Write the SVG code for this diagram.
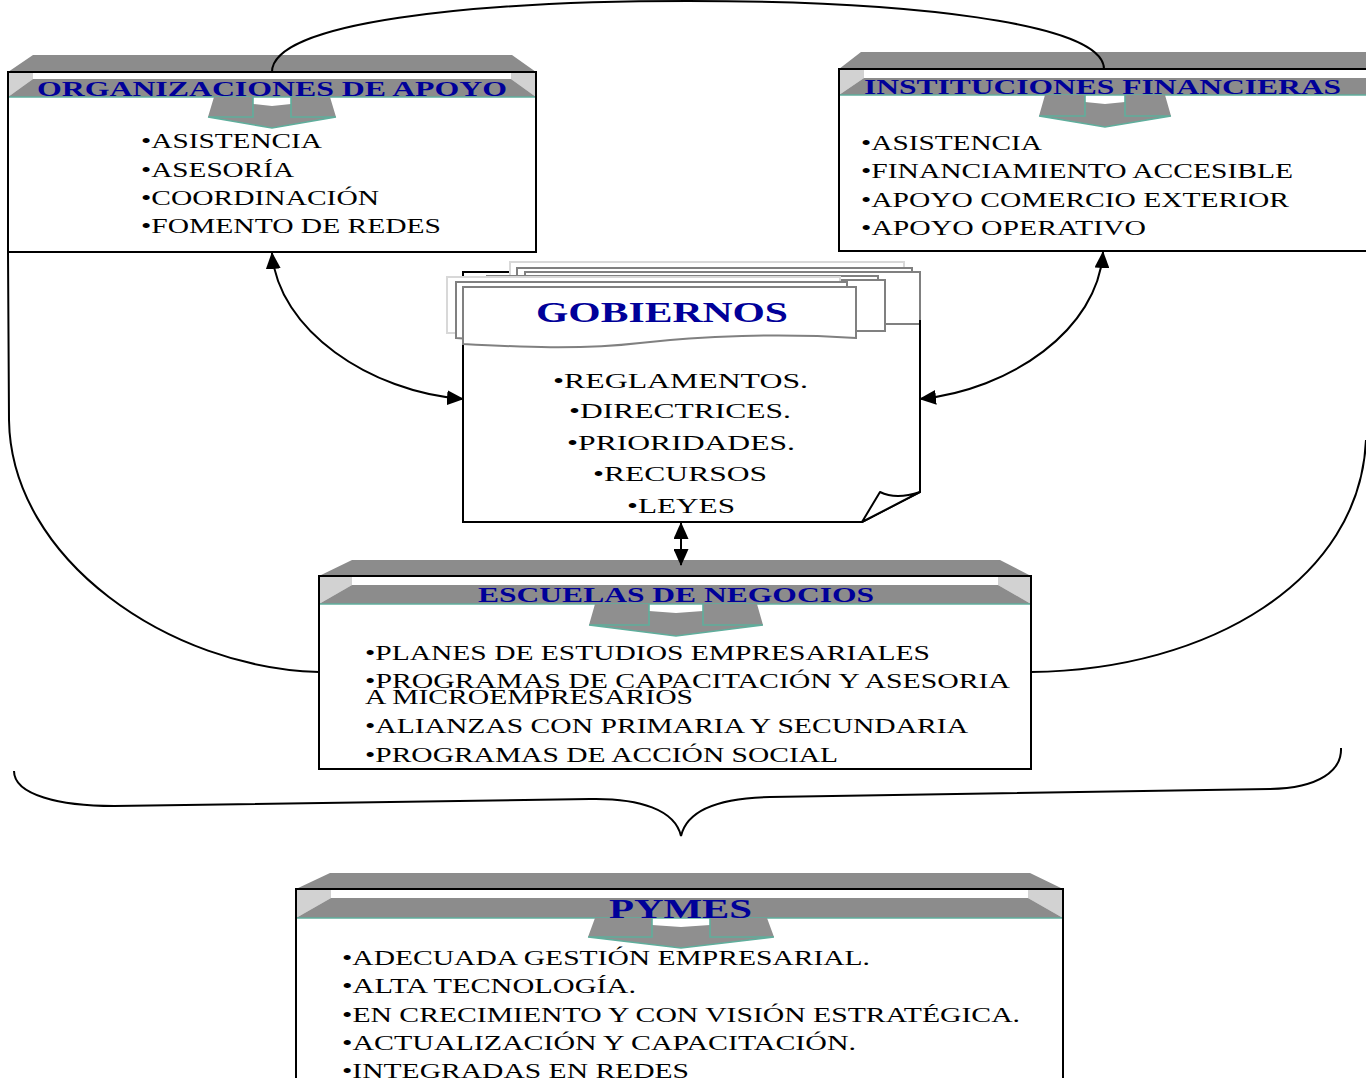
<svg xmlns="http://www.w3.org/2000/svg" width="1366" height="1078" viewBox="0 0 1366 1078">
<defs>
<style>
.box{fill:#ffffff;stroke:none}
.outline{fill:none;stroke:#000;stroke-width:2}
.top{fill:#8c8c8c}
.corner{fill:#d2d2d2}
.band{fill:#8c8c8c}
.teal{fill:none;stroke:#5fae9c;stroke-width:1.6}
.arr{fill:#8f8f8f}
.hdr{font-family:"Liberation Serif","Times New Roman",serif;font-weight:bold;fill:#000099}
.txt{font-family:"Liberation Serif","Times New Roman",serif;fill:#000;font-size:20px}
.ban{fill:#ffffff;stroke:#808080;stroke-width:2}
.banl{fill:#ffffff;stroke:#d8d8d8;stroke-width:2}
.con{fill:none;stroke:#000;stroke-width:2}
</style>
<marker id="ah" markerUnits="userSpaceOnUse" markerWidth="17" markerHeight="15" viewBox="0 0 17 15" refX="16" refY="7.5" orient="auto-start-reverse">
<path d="M0,0 L17,7.5 L0,15 Z" fill="#000"/>
</marker>
</defs>

<g id="organizaciones">
<rect class="box" x="8" y="72" width="528" height="180"/>
<polygon class="top" points="8,72 33,55 512,55 536,72"/>
<polygon class="corner" points="8,72 33,72 33,79 8,97"/>
<polygon class="corner" points="536,72 511,72 511,79 536,97"/>
<polygon class="band" points="8,97 33,79 511,79 536,97"/>
<line class="teal" x1="8" y1="97" x2="536" y2="97"/>
<polygon class="arr" points="214,97 253,97 253,104 272,106 291,104 291,97 330,97 336,117 272,128 208,117"/>
<path class="teal" d="M253,97 V117 H208 M291,97 V117 H336 M208,117 L272,128 L336,117"/>
<text class="hdr" x="37" y="96" font-size="21" textLength="470" lengthAdjust="spacingAndGlyphs">ORGANIZACIONES DE APOYO</text>
<text class="txt" x="141" y="148" textLength="181" lengthAdjust="spacingAndGlyphs">•ASISTENCIA</text>
<text class="txt" x="141" y="177" textLength="153" lengthAdjust="spacingAndGlyphs">•ASESORÍA</text>
<text class="txt" x="141" y="205" textLength="238" lengthAdjust="spacingAndGlyphs">•COORDINACIÓN</text>
<text class="txt" x="141" y="233" textLength="300" lengthAdjust="spacingAndGlyphs">•FOMENTO DE REDES</text>
<rect class="outline" x="8" y="72" width="528" height="180"/>
</g>

<g id="instituciones">
<rect class="box" x="839" y="69" width="560" height="182"/>
<polygon class="top" points="839,69 861,52 1380,52 1400,69"/>
<polygon class="corner" points="839,69 864,69 864,78 839,95"/>
<polygon class="band" points="839,95 864,78 1380,78 1400,95"/>
<line class="teal" x1="839" y1="95" x2="1366" y2="95"/>
<polygon class="arr" points="1045,95 1085,95 1085,102 1105,104 1125,102 1125,95 1165,95 1171,116 1105,127 1039,116"/>
<path class="teal" d="M1085,95 V116 H1039 M1125,95 V116 H1171 M1039,116 L1105,127 L1171,116"/>
<text class="hdr" x="864" y="94" font-size="21" textLength="477" lengthAdjust="spacingAndGlyphs">INSTITUCIONES FINANCIERAS</text>
<text class="txt" x="861" y="150" textLength="181" lengthAdjust="spacingAndGlyphs">•ASISTENCIA</text>
<text class="txt" x="861" y="178" textLength="432" lengthAdjust="spacingAndGlyphs">•FINANCIAMIENTO ACCESIBLE</text>
<text class="txt" x="861" y="207" textLength="428" lengthAdjust="spacingAndGlyphs">•APOYO COMERCIO EXTERIOR</text>
<text class="txt" x="861" y="235" textLength="285" lengthAdjust="spacingAndGlyphs">•APOYO OPERATIVO</text>
<rect class="outline" x="839" y="69" width="560" height="182"/>
</g>

<g id="gobiernos">
<path class="box" d="M463,272 H920 V492 L862,522 H463 Z" style="stroke:#000;stroke-width:2"/>
<rect class="banl" x="510" y="262" width="394" height="53"/>
<rect class="ban" x="517" y="268" width="395" height="52"/>
<rect class="ban" x="525" y="272" width="395" height="52"/>
<rect class="ban" x="487" y="276" width="391" height="50"/>
<rect class="ban" x="495" y="280" width="390" height="51"/>
<rect class="banl" x="447" y="277" width="393" height="56"/>
<path class="ban" d="M456,282 H847 V333 C770,328 690,331 630,338 C570,345 510,342 456,338 Z"/>
<path class="ban" d="M463,287 H856 V338 C780,333 700,336 640,343 C580,350 520,347 463,344 Z"/>
<line x1="920" y1="320" x2="920" y2="492" stroke="#000" stroke-width="2"/>
<path d="M862,522 L880,492 Q896,500 920,492 Z" fill="#fff" stroke="#000" stroke-width="2" stroke-linejoin="round"/>
<text class="hdr" x="536" y="322" font-size="29" textLength="252" lengthAdjust="spacingAndGlyphs">GOBIERNOS</text>
<text class="txt" x="553" y="388" textLength="255" lengthAdjust="spacingAndGlyphs">•REGLAMENTOS.</text>
<text class="txt" x="569" y="418" textLength="222" lengthAdjust="spacingAndGlyphs">•DIRECTRICES.</text>
<text class="txt" x="567" y="450" textLength="228" lengthAdjust="spacingAndGlyphs">•PRIORIDADES.</text>
<text class="txt" x="593" y="481" textLength="174" lengthAdjust="spacingAndGlyphs">•RECURSOS</text>
<text class="txt" x="627" y="513" textLength="108" lengthAdjust="spacingAndGlyphs">•LEYES</text>
</g>

<g id="escuelas">
<rect class="box" x="319" y="576" width="712" height="193"/>
<polygon class="top" points="319,576 352,560 1000,560 1031,576"/>
<polygon class="corner" points="319,576 352,576 352,585 319,604"/>
<polygon class="corner" points="1031,576 998,576 998,585 1031,604"/>
<polygon class="band" points="319,604 352,585 998,585 1031,604"/>
<line class="teal" x1="319" y1="604" x2="1031" y2="604"/>
<polygon class="arr" points="595,604 649,604 649,611 676,613 703,611 703,604 757,604 763,625 676,636 589,625"/>
<path class="teal" d="M649,604 V625 H589 M703,604 V625 H763 M589,625 L676,636 L763,625"/>
<text class="hdr" x="478" y="602" font-size="21" textLength="396" lengthAdjust="spacingAndGlyphs">ESCUELAS DE NEGOCIOS</text>
<text class="txt" x="365" y="660" textLength="565" lengthAdjust="spacingAndGlyphs">•PLANES DE ESTUDIOS EMPRESARIALES</text>
<text class="txt" x="365" y="688" textLength="645" lengthAdjust="spacingAndGlyphs">•PROGRAMAS DE CAPACITACIÓN Y ASESORIA</text>
<text class="txt" x="365" y="704" textLength="328" lengthAdjust="spacingAndGlyphs">A MICROEMPRESARIOS</text>
<text class="txt" x="365" y="733" textLength="603" lengthAdjust="spacingAndGlyphs">•ALIANZAS CON PRIMARIA Y SECUNDARIA</text>
<text class="txt" x="365" y="762" textLength="473" lengthAdjust="spacingAndGlyphs">•PROGRAMAS DE ACCIÓN SOCIAL</text>
<rect class="outline" x="319" y="576" width="712" height="193"/>
</g>

<g id="pymes">
<rect class="box" x="296" y="889" width="767" height="200"/>
<polygon class="top" points="296,889 330,873 1030,873 1063,889"/>
<polygon class="corner" points="296,889 331,889 331,898 296,918"/>
<polygon class="corner" points="1063,889 1028,889 1028,898 1063,918"/>
<polygon class="band" points="296,918 331,898 1028,898 1063,918"/>
<line class="teal" x1="296" y1="918" x2="1063" y2="918"/>
<polygon class="arr" points="595,918 652,918 652,925 681,927 710,925 710,918 767,918 774,937 681,948 588,937"/>
<path class="teal" d="M652,918 V937 H588 M710,918 V937 H774 M588,937 L681,948 L774,937"/>
<text class="hdr" x="609" y="918" font-size="28" textLength="143" lengthAdjust="spacingAndGlyphs">PYMES</text>
<text class="txt" x="342" y="965" font-size="21" textLength="528" lengthAdjust="spacingAndGlyphs">•ADECUADA GESTIÓN EMPRESARIAL.</text>
<text class="txt" x="342" y="993" font-size="21" textLength="294" lengthAdjust="spacingAndGlyphs">•ALTA TECNOLOGÍA.</text>
<text class="txt" x="342" y="1022" font-size="21" textLength="678" lengthAdjust="spacingAndGlyphs">•EN CRECIMIENTO Y CON VISIÓN ESTRATÉGICA.</text>
<text class="txt" x="342" y="1050" font-size="21" textLength="514" lengthAdjust="spacingAndGlyphs">•ACTUALIZACIÓN Y CAPACITACIÓN.</text>
<text class="txt" x="342" y="1078" font-size="21" textLength="347" lengthAdjust="spacingAndGlyphs">•INTEGRADAS EN REDES</text>
<rect class="outline" x="296" y="889" width="767" height="200"/>
</g>

<g id="connectors">
<path class="con" d="M272,72 C272,22 472,1 688,1 C904,1 1104,22 1104,69"/>
<path class="con" d="M8,252 L9,420 C11,560 170,668 319,672"/>
<path class="con" d="M1366,440 C1360,580 1210,670 1031,672"/>
<path class="con" d="M272,253 C278,330 370,392 463,399" marker-start="url(#ah)" marker-end="url(#ah)"/>
<path class="con" d="M1103,252 C1098,330 1010,390 920,399" marker-start="url(#ah)" marker-end="url(#ah)"/>
<path class="con" d="M681,523 L681,565" marker-start="url(#ah)" marker-end="url(#ah)"/>
<path class="con" d="M14,771 C14,795 60,806 114,806 L590,799 C640,798 675,810 681,836 C687,810 720,798 770,797 L1270,789 C1320,788 1342,770 1341,748"/>
</g>
</svg>
